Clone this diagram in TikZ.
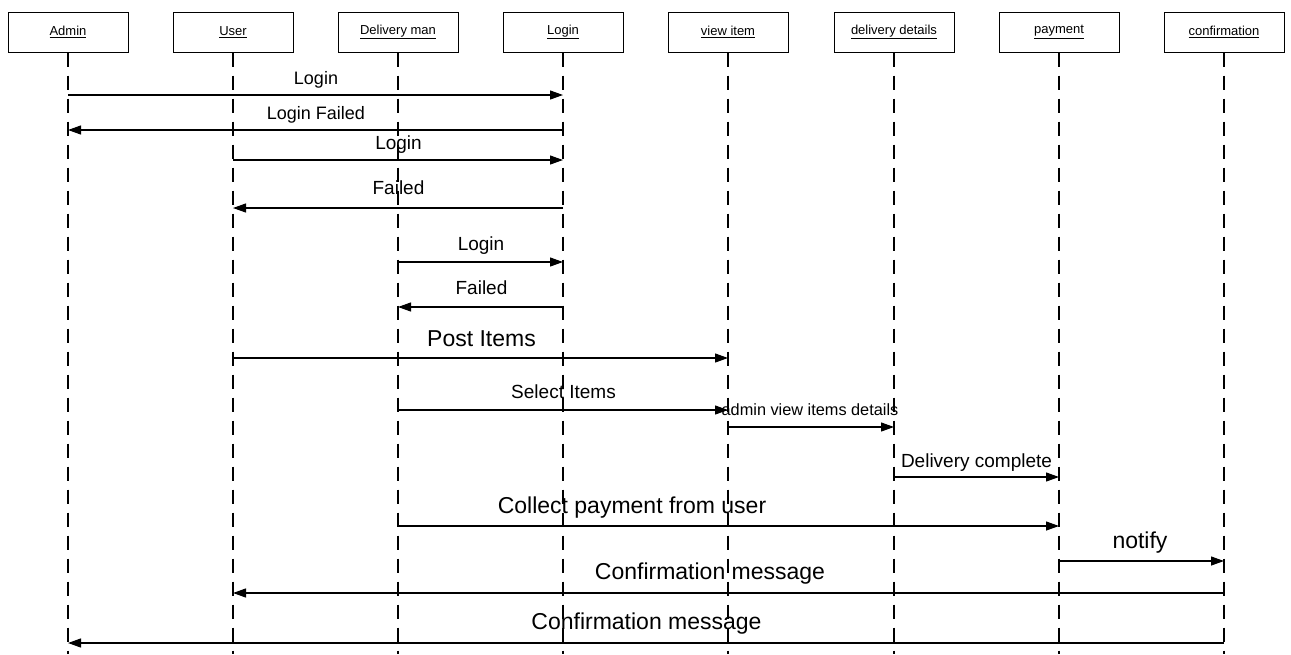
\documentclass[tikz,border=0pt]{standalone}
\usepackage{fontspec}
\setmainfont{Liberation Sans}
\usetikzlibrary{arrows.meta}
\begin{document}
\begin{tikzpicture}[x=1pt,y=-1pt,
  head/.style={draw,line width=1pt,minimum width=120pt,minimum height=40pt,inner sep=0pt,font=\fontsize{13}{15}\selectfont},
  life/.style={line width=1.2pt,dash pattern=on 14pt off 9pt},
  msg/.style={line width=1.2pt,-{Triangle[length=13pt,width=9pt]}},
  lbl/.style={inner sep=0pt,anchor=base,font=\fontsize{19}{22}\selectfont},
  lbls/.style={inner sep=0pt,anchor=base,font=\fontsize{18}{21}\selectfont},
  big/.style={inner sep=0pt,anchor=base,font=\fontsize{23}{27}\selectfont},
  small/.style={inner sep=0pt,anchor=base,font=\fontsize{16.3}{19}\selectfont}]
\useasboundingbox (0,0) rectangle (1291,654);
\fill[white] (0,0) rectangle (1291,654);
% heads
\node[head] (admin) at (68,32) {\underline{Admin}};
\node[head] (user) at (233,32) {\underline{User}};
\node[head] (dman) at (398,32) {\underline{Delivery man}};
\node[head] (login) at (563,32) {\underline{Login}};
\node[head] (view) at (728,32) {\underline{view item}};
\node[head] (ddet) at (894,32) {\underline{delivery details}};
\node[head] (pay) at (1059,32) {\underline{payment}};
\node[head] (conf) at (1224,32) {\underline{confirmation}};
% lifeline ends
\foreach \n in {admin,user,dman,login,view,ddet,pay,conf}{
  \coordinate (\n-end) at (\n.south |- 0,654);
  \draw[life] (\n.south) -- (\n-end);
}
% messages
\draw[msg] (admin|-0,95) -- (login|-0,95);
\node[lbls] (m1) at (316,84) {Login};
\draw[msg] (login|-0,130) -- (admin|-0,130);
\node[lbls] (m2) at (316,119) {Login Failed};
\draw[msg] (user|-0,160) -- (login|-0,160);
\node[lbl] (m3) at (398.5,149) {Login};
\draw[msg] (login|-0,208) -- (user|-0,208);
\node[lbl] (m4) at (398.5,194) {Failed};
\draw[msg] (dman|-0,262) -- (login|-0,262);
\node[lbl] (m5) at (481,250) {Login};
\draw[msg] (login|-0,307) -- (dman|-0,307);
\node[lbl] (m6) at (481.5,294) {Failed};
\draw[msg] (user|-0,358) -- (view|-0,358);
\node[big] (m7) at (481.5,346) {Post Items};
\draw[msg] (dman|-0,410) -- (view|-0,410);
\node[lbl] (m8) at (563.5,398) {Select Items};
\draw[msg] (view|-0,427) -- (ddet|-0,427);
\node[small] (m9) at (810,415) {admin view items details};
\draw[msg] (ddet|-0,477) -- (pay|-0,477);
\node[lbl] (m10) at (976.5,467) {Delivery complete};
\draw[msg] (dman|-0,526) -- (pay|-0,526);
\node[big] (m11) at (632,513) {Collect payment from user};
\draw[msg] (pay|-0,561) -- (conf|-0,561);
\node[big] (m12) at (1140,548) {notify};
\draw[msg] (conf|-0,593) -- (user|-0,593);
\node[big] (m13) at (710,579) {Confirmation message};
\draw[msg] (conf|-0,643) -- (admin|-0,643);
\node[big] (m14) at (646.5,629) {Confirmation message};
\end{tikzpicture}
\end{document}
